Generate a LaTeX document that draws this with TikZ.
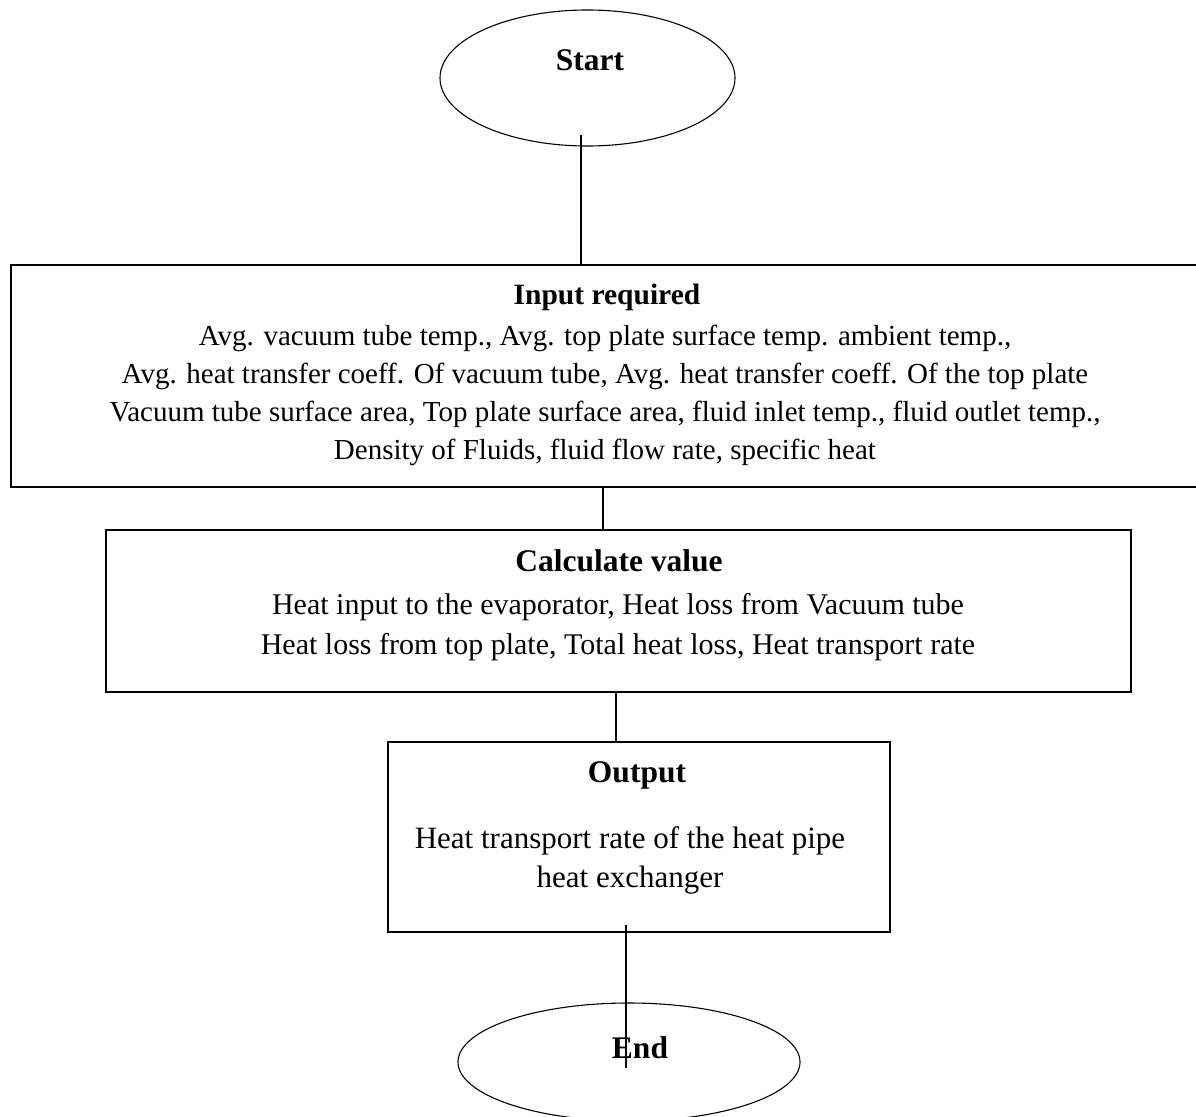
\documentclass[tikz,border=0pt]{standalone}
\usepackage{fontspec}
\setmainfont{Liberation Serif}
\usetikzlibrary{shapes.geometric}
\begin{document}
\begin{tikzpicture}[x=1pt,y=-1pt,
  boxshape/.style={draw,line width=1.6pt,rectangle,inner sep=0pt},
  ovalshape/.style={draw,line width=1.1pt,ellipse,inner sep=0pt},
  conn/.style={line width=1.5pt},
  bodytext/.style={inner sep=0pt,align=center,font=\fontsize{29}{38}\selectfont},
  titletext/.style={inner sep=0pt,align=center,font=\fontsize{31.5}{38}\selectfont\bfseries}]
\useasboundingbox (0,0) rectangle (1196,1116);
\clip (0,0) rectangle (1196,1116);
% shapes
\node[ovalshape,minimum width=295pt,minimum height=136pt] (start) at (587.5,78) {};
\node[boxshape,minimum width=1204pt,minimum height=222pt] (input) at (613,376) {};
\node[boxshape,minimum width=1025pt,minimum height=162pt] (calc) at (618.5,611) {};
\node[boxshape,minimum width=502pt,minimum height=190pt] (output) at (639,837) {};
\node[ovalshape,minimum width=342pt,minimum height=118pt] (end) at (629,1062) {};
% texts
\node[titletext] (starttxt) at (590,60) {Start};
\node[titletext,font=\fontsize{29.5}{38}\selectfont\bfseries] (inputtitle) at (607,297) {Input required};
\node[bodytext] (inputbody) at (605,395) {Avg. vacuum tube temp., Avg. top plate surface temp. ambient temp.,\\
Avg. heat transfer coeff. Of vacuum tube, Avg. heat transfer coeff. Of the top plate\\
Vacuum tube surface area, Top plate surface area, fluid inlet temp., fluid outlet temp.,\\
Density of Fluids, fluid flow rate, specific heat};
\node[titletext] (calctitle) at (619,561) {Calculate value};
\node[bodytext,font=\fontsize{30}{40}\selectfont] (calcbody) at (618,627) {Heat input to the evaporator, Heat loss from Vacuum tube\\
Heat loss from top plate, Total heat loss, Heat transport rate};
\node[titletext] (outtitle) at (637,775) {Output};
\node[bodytext,font=\fontsize{31}{39}\selectfont] (outbody) at (630,860) {Heat transport rate of the heat pipe\\ heat exchanger};
\node[titletext] (endtxt) at (640,1048) {End};
% connectors
\coordinate (c1) at (581,135);
\coordinate (c4a) at (626,925);
\coordinate (c4b) at (626,1068);
\draw[conn] (c1) -- (c1 |- input.north);
\draw[conn] (input.south -| 603,0) -- (calc.north -| 603,0);
\draw[conn] (calc.south -| 616,0) -- (output.north -| 616,0);
\draw[conn] (c4a) -- (c4b);
\end{tikzpicture}
\end{document}
